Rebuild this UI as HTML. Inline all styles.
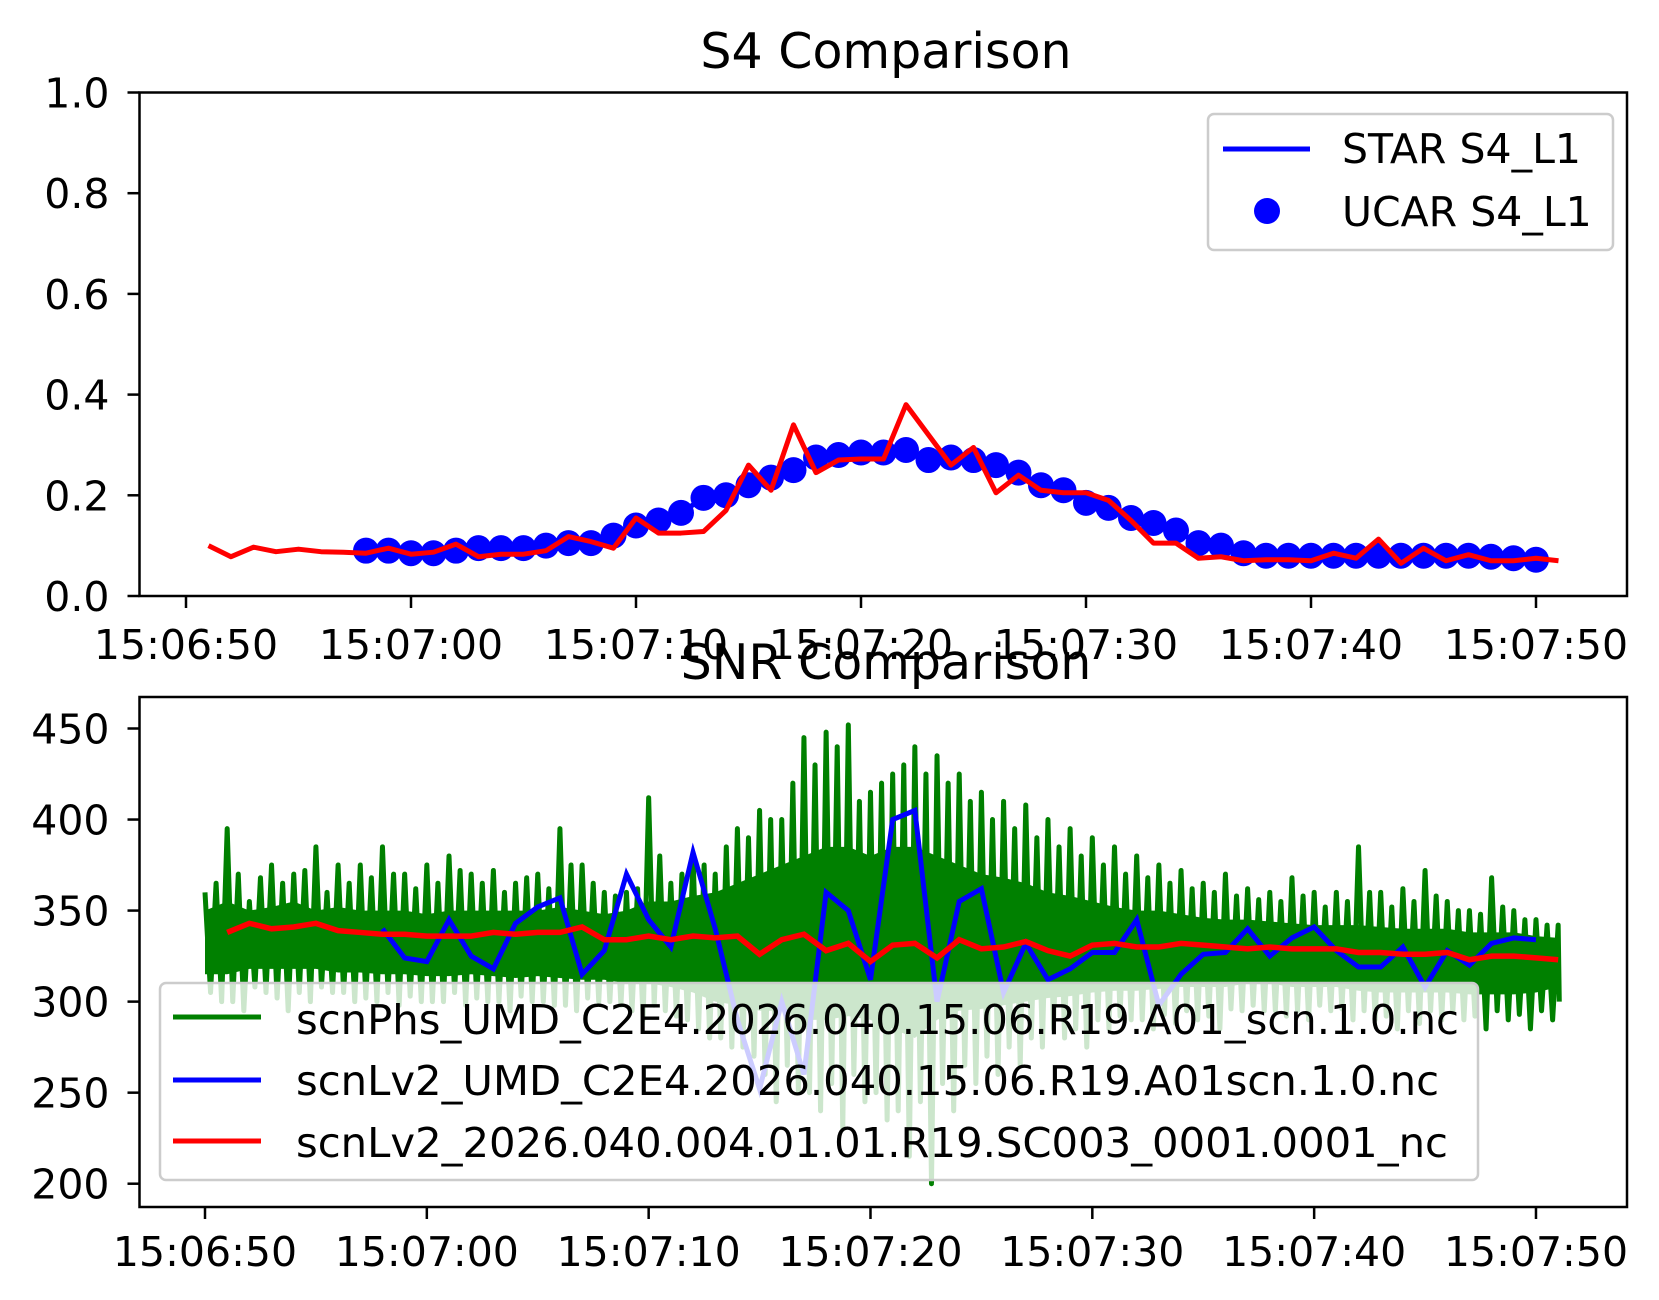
<!DOCTYPE html>
<html><head><meta charset="utf-8"><style>
html,body{margin:0;padding:0;background:#fff;}
svg{display:block;font-family:"DejaVu Sans","Liberation Sans",sans-serif;}
</style></head><body>
<svg id="fig" width="1659" height="1300" viewBox="0 0 1659 1300" xmlns="http://www.w3.org/2000/svg">
<g id="top"></g>
<g id="bot"></g>
</svg>
<script>
// ---- S4 data (seconds after 15:06:50) ----
const s4UcarT = [8,9,10,11,12,13,14,15,16,17,18,19,20,21,22,23,24,25,26,27,28,29,30,31,32,33,34,35,36,37,38,39,40,41,42,43,44,45,46,47,48,49,50,51,52,53,54,55,56,57,58,59,60];
const s4UcarV = [0.09,0.09,0.085,0.085,0.09,0.095,0.095,0.095,0.10,0.105,0.105,0.12,0.14,0.15,0.165,0.195,0.20,0.22,0.235,0.25,0.275,0.28,0.285,0.285,0.29,0.27,0.275,0.27,0.26,0.245,0.22,0.21,0.185,0.175,0.155,0.145,0.13,0.105,0.10,0.085,0.08,0.08,0.08,0.08,0.08,0.08,0.08,0.08,0.08,0.08,0.078,0.075,0.072];
const s4RedT = [1,2,3,4,5,6,7,8,9,10,11,12,13,14,15,16,17,18,19,20,21,22,23,24,25,26,27,28,29,30,31,32,33,34,35,36,37,38,39,40,41,42,43,44,45,46,47,48,49,50,51,52,53,54,55,56,57,58,59,60,61];
const s4RedV = [0.10,0.078,0.097,0.088,0.093,0.088,0.087,0.085,0.095,0.083,0.087,0.103,0.078,0.083,0.083,0.09,0.118,0.108,0.095,0.155,0.125,0.125,0.128,0.17,0.26,0.21,0.34,0.245,0.27,0.272,0.272,0.38,0.32,0.26,0.295,0.205,0.24,0.21,0.205,0.205,0.19,0.15,0.105,0.105,0.075,0.078,0.07,0.072,0.072,0.07,0.085,0.075,0.113,0.065,0.095,0.07,0.082,0.07,0.07,0.075,0.07];
const s4YTicks = [0.0,0.2,0.4,0.6,0.8,1.0];
const timeTicks = [0,10,20,30,40,50,60];
const timeLabels = ["15:06:50","15:07:00","15:07:10","15:07:20","15:07:30","15:07:40","15:07:50"];

// ---- SNR data ----
const snrBlueT = [8,9,10,11,12,13,14,15,16,17,18,19,20,21,22,23,24,25,26,27,28,29,30,31,32,33,34,35,36,37,38,39,40,41,42,43,44,45,46,47,48,49,50,51,52,53,54,55,56,57,58,59,60];
const snrBlueV = [340,324,322,345,325,318,343,352,357,315,328,370,345,330,382,340,290,252,300,260,360,350,312,400,405,300,355,362,305,332,312,318,327,327,345,298,315,326,327,340,325,335,341,328,319,319,330,308,328,320,332,335,334];
const snrRedV = [338,343,340,341,343,339,338,337,337,336,336,336,338,337,338,338,341,334,334,336,334,336,335,336,326,334,337,328,332,322,331,332,324,334,329,330,333,328,325,331,332,330,330,332,331,330,329,330,329,329,329,327,327,326,326,327,323,325,325,324,323];
const snrGreenHi = [360,395,355,375,370,385,375,375,385,370,375,380,370,372,365,370,395,375,360,360,412,365,380,370,395,405,400,445,448,452,415,425,440,435,425,415,410,408,400,395,390,385,380,375,372,365,370,362,360,368,360,360,385,360,362,372,355,350,368,350,345,342];
const snrGreenLo = [300,295,305,295,300,305,300,300,298,300,300,298,300,295,300,298,295,300,298,290,295,290,280,275,270,245,250,240,230,245,235,215,200,240,255,260,265,275,280,275,285,290,285,288,290,285,295,295,292,290,295,290,290,285,288,290,290,285,290,285,290,300];
const snrGreenHi2 = [365,370,368,365,372,360,365,368,370,362,365,372,365,360,368,362,375,365,358,362,380,370,375,385,390,400,420,430,440,410,420,430,425,420,410,400,395,390,385,380,375,370,368,365,362,360,358,356,355,358,352,355,360,352,355,358,350,348,352,345,342,340];
const snrGreenLo2 = [305,300,308,302,305,308,305,302,305,303,300,305,302,300,303,300,298,302,300,295,298,292,285,280,275,260,265,250,255,260,250,240,245,255,265,270,275,280,285,285,290,292,290,293,295,292,296,298,295,295,298,296,295,292,295,295,294,292,295,293,295,300];
const snrBulkTop = [350,355,350,352,355,350,352,350,350,350,348,350,350,350,350,350,352,350,348,350,355,355,358,360,365,370,375,380,385,385,380,385,385,380,375,370,368,365,360,358,355,352,350,350,348,346,345,345,344,343,342,342,342,341,340,340,340,338,338,338,336,335];
const snrBulkBot = [315,315,318,318,318,318,316,316,315,315,314,314,315,314,313,314,313,312,312,310,310,308,305,300,298,295,295,290,290,292,290,285,280,290,295,296,298,300,302,303,305,306,306,307,308,308,308,310,310,308,308,308,306,305,305,305,305,304,304,304,305,308];
const snrYTicks = [200,250,300,350,400,450];

const NS = "http://www.w3.org/2000/svg";
function mk(parent, tag, attrs){const e=document.createElementNS(NS,tag);for(const k in attrs)e.setAttribute(k,attrs[k]);parent.appendChild(e);return e;}
const FS = 41;

// ---- Top axes ----
const T = {l:139.5,r:1627,t:92.5,b:596};
const tx = s => 186 + s*22.5;
const ty = v => T.b - v*(T.b-T.t);
const topG = document.getElementById('top');

let e = mk(topG,'text',{x:886,y:68,'font-size':49,'text-anchor':'middle'});
e.textContent='S4 Comparison';



e = mk(topG,'polyline',{points:s4UcarT.map((t,i)=>tx(t)+','+ty(s4UcarV[i])).join(' '),fill:'none',stroke:'#0000ff','stroke-width':5});


s4UcarT.forEach((t,i)=>{
  const c = mk(topG,'circle',{cx:tx(t),cy:ty(s4UcarV[i]),r:13,fill:'#0000ff'});
  
  
});
e = mk(topG,'polyline',{points:s4RedT.map((t,i)=>tx(t)+','+ty(s4RedV[i])).join(' '),fill:'none',stroke:'#ff0000','stroke-width':5,'stroke-linejoin':'round'});



e = mk(topG,'rect',{x:T.l,y:T.t,width:T.r-T.l,height:T.b-T.t,fill:'none',stroke:'#000','stroke-width':2.5});


s4YTicks.forEach(v=>{
  mk(topG,'line',{x1:T.l-12,x2:T.l,y1:ty(v),y2:ty(v),stroke:'#000','stroke-width':2.5});
  const l = mk(topG,'text',{x:T.l-30,y:ty(v)+15,'font-size':FS,'text-anchor':'end'});
  l.textContent=v.toFixed(1);
  
  
});
timeTicks.forEach((s,i)=>{
  mk(topG,'line',{x1:tx(s),x2:tx(s),y1:T.b,y2:T.b+12,stroke:'#000','stroke-width':2.5});
  const l = mk(topG,'text',{x:tx(s),y:659,'font-size':FS,'text-anchor':'middle'});
  l.textContent=timeLabels[i];
  
  
});
const lg = mk(topG,'g',{});


mk(lg,'rect',{x:1208,y:114,width:405,height:136,rx:6,fill:'#fff','fill-opacity':0.8,stroke:'#ccc','stroke-width':2.5});
mk(lg,'line',{x1:1223,x2:1310,y1:149,y2:149,stroke:'#0000ff','stroke-width':5});
e = mk(lg,'text',{x:1342,y:163,'font-size':FS}); e.textContent='STAR S4_L1';


mk(lg,'circle',{cx:1267,cy:211,r:13,fill:'#0000ff'});
e = mk(lg,'text',{x:1342,y:226,'font-size':FS}); e.textContent='UCAR S4_L1';



// ---- Bottom axes ----
const B = {l:139.5,r:1627,t:697,b:1207};
const bx = s => 205 + s*22.183;
const by = v => 728.5 + (450-v)*(1183.7-728.5)/250;
const botG = document.getElementById('bot');

const bandPts = snrBulkTop.map((v,i)=>bx(i)+','+by(v)).concat(snrBulkBot.map((v,i)=>[bx(i),by(v)]).reverse().map(p=>p[0]+','+p[1]));
e = mk(botG,'polygon',{points:bandPts.join(' '),fill:'#008000'});


const zz=[];
snrGreenHi.forEach((v,i)=>{
  const last = i===snrGreenHi.length-1;
  zz.push(bx(i)+','+by(v));
  zz.push(bx(last? i+0.05 : i+0.25)+','+by(snrGreenLo2[i]));
  if(!last){
    zz.push(bx(i+0.5)+','+by(snrGreenHi2[i]));
    zz.push(bx(i+0.75)+','+by(snrGreenLo[i]));
  }
});
e = mk(botG,'polyline',{points:zz.join(' '),fill:'none',stroke:'#008000','stroke-width':5,'stroke-linejoin':'round'});


e = mk(botG,'polyline',{points:snrBlueT.map((t,i)=>bx(t)+','+by(snrBlueV[i])).join(' '),fill:'none',stroke:'#0000ff','stroke-width':5});


e = mk(botG,'polyline',{points:snrRedV.map((v,i)=>bx(i+1)+','+by(v)).join(' '),fill:'none',stroke:'#ff0000','stroke-width':5.5});



e = mk(botG,'text',{x:886,y:679,'font-size':49,'text-anchor':'middle'});
e.textContent='SNR Comparison';



e = mk(botG,'rect',{x:B.l,y:B.t,width:B.r-B.l,height:B.b-B.t,fill:'none',stroke:'#000','stroke-width':2.5});


snrYTicks.forEach(v=>{
  mk(botG,'line',{x1:B.l-12,x2:B.l,y1:by(v),y2:by(v),stroke:'#000','stroke-width':2.5});
  const l = mk(botG,'text',{x:B.l-30,y:by(v)+15,'font-size':FS,'text-anchor':'end'});
  l.textContent=String(v);
  
  
});
timeTicks.forEach((s,i)=>{
  mk(botG,'line',{x1:bx(s),x2:bx(s),y1:B.b,y2:B.b+12,stroke:'#000','stroke-width':2.5});
  const l = mk(botG,'text',{x:bx(s),y:1266,'font-size':FS,'text-anchor':'middle'});
  l.textContent=timeLabels[i];
  
  
});
const lg2 = mk(botG,'g',{});


mk(lg2,'rect',{x:160,y:983,width:1318,height:197,rx:6,fill:'#fff','fill-opacity':0.8,stroke:'#ccc','stroke-width':2.5});
const legItems = [['#008000','scnPhs_UMD_C2E4.2026.040.15.06.R19.A01_scn.1.0.nc',1017,1034,1163],
                  ['#0000ff','scnLv2_UMD_C2E4.2026.040.15.06.R19.A01scn.1.0.nc',1080,1095,1143],
                  ['#ff0000','scnLv2_2026.040.004.01.01.R19.SC003_0001.0001_nc',1141,1157,1152]];
legItems.forEach(it=>{
  mk(lg2,'line',{x1:173,x2:261,y1:it[2],y2:it[2],stroke:it[0],'stroke-width':5});
  const l = mk(lg2,'text',{x:296,y:it[3],'font-size':FS,textLength:it[4],lengthAdjust:'spacingAndGlyphs'});
  l.textContent=it[1];
  
  
});
</script>
</body></html>
